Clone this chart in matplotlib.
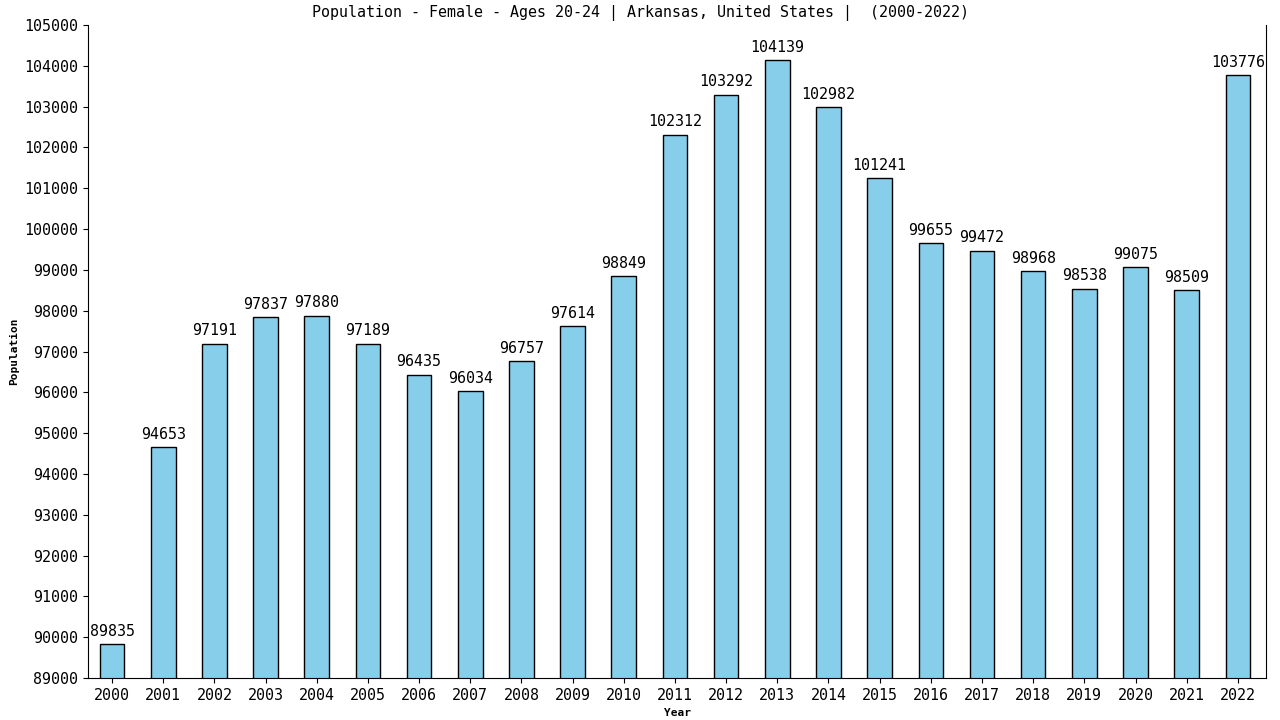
import matplotlib
matplotlib.use("Agg")
import matplotlib.pyplot as plt

years = [str(y) for y in range(2000, 2023)]
population = [89835, 94653, 97191, 97837, 97880, 97189, 96435, 96034, 96757, 97614,
              98849, 102312, 103292, 104139, 102982, 101241, 99655, 99472, 98968,
              98538, 99075, 98509, 103776]

plt.rcParams['font.family'] = 'DejaVu Sans Mono'

fig = plt.figure(figsize=(12.8, 7.2), dpi=100)
ax = fig.add_axes([88 / 1280, 1 - 678 / 720, (1266 - 88) / 1280, (678 - 25) / 720])

x = list(range(len(years)))
ax.bar(x, population, width=0.48, color='skyblue', edgecolor='black', linewidth=1)
for xi, v in zip(x, population):
    ax.text(xi, v + 130, str(v), ha='center', va='bottom', fontsize=10.8)

ax.set_xlim(-0.47, 22.55)
ax.set_ylim(89000, 105000)
ax.set_yticks(range(89000, 105001, 1000))
ax.set_xticks(x)
ax.set_xticklabels(years)
ax.tick_params(labelsize=10.8)
ax.spines['top'].set_visible(False)

fig.text(0.5, 1 - 13 / 720, 'Population - Female - Ages 20-24 | Arkansas, United States |  (2000-2022)',
         ha='center', va='center', fontsize=10.8)
ax.set_xlabel('Year', fontsize=8, fontweight='bold')
ax.set_ylabel('Population', fontsize=8, fontweight='bold')

fig.savefig('out.png', dpi=100)
